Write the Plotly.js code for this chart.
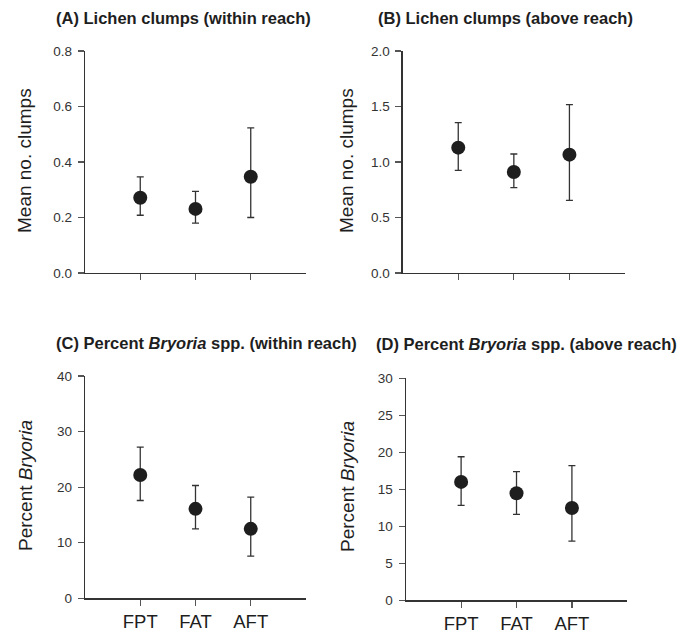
<!DOCTYPE html>
<html>
<head>
<meta charset="utf-8">
<script src="https://cdn.plot.ly/plotly-3.0.1.min.js"></script>
<style>html,body{margin:0;padding:0;background:#fff;}#chart{width:694px;height:634px;}</style>
</head>
<body>
<div id="chart"></div>
<script>
// Categories
const categories = ["FPT", "FAT", "AFT"];

// (A) Lichen clumps (within reach)
const meanA  = [0.271, 0.231, 0.347];
const upperA = [0.346, 0.294, 0.523];
const lowerA = [0.208, 0.180, 0.200];

// (B) Lichen clumps (above reach)
const meanB  = [1.129, 0.910, 1.066];
const upperB = [1.354, 1.072, 1.516];
const lowerB = [0.925, 0.769, 0.655];

// (C) Percent Bryoria spp. (within reach)
const meanC  = [22.2, 16.1, 12.5];
const upperC = [27.2, 20.3, 18.2];
const lowerC = [17.6, 12.5, 7.6];

// (D) Percent Bryoria spp. (above reach)
const meanD  = [16.0, 14.46, 12.47];
const upperD = [19.4, 17.38, 18.19];
const lowerD = [12.84, 11.62, 8.01];

const panelTitles = [
  "<b>(A) Lichen clumps (within reach)</b>",
  "<b>(B) Lichen clumps (above reach)</b>",
  "<b>(C) Percent <i>Bryoria</i> spp. (within reach)</b>",
  "<b>(D) Percent <i>Bryoria</i> spp. (above reach)</b>"
];
const yTitles = ["Mean no. clumps", "Mean no. clumps", "Percent <i>Bryoria</i>", "Percent <i>Bryoria</i>"];
const yRanges = [[0, 0.8], [0, 2.0], [0, 40], [0, 30]];
const yTicks = [[0, 0.2, 0.4, 0.6, 0.8], [0, 0.5, 1.0, 1.5, 2.0], [0, 10, 20, 30, 40], [0, 5, 10, 15, 20, 25, 30]];
const yTickText = [["0.0","0.2","0.4","0.6","0.8"], ["0.0","0.5","1.0","1.5","2.0"], ["0","10","20","30","40"], ["0","5","10","15","20","25","30"]];

const FONT = "Liberation Sans, Arial, sans-serif";
const INK = "#1e1e1e";

function mkTrace(mean, upper, lower, ax) {
  return {
    type: "scatter", mode: "markers",
    x: categories, y: mean,
    xaxis: "x" + (ax === 1 ? "" : ax), yaxis: "y" + (ax === 1 ? "" : ax),
    marker: { size: 14, color: INK },
    error_y: {
      type: "data", symmetric: false,
      array: upper.map((u, i) => u - mean[i]),
      arrayminus: lower.map((l, i) => mean[i] - l),
      color: "#333", thickness: 1.3, width: 3.5
    },
    showlegend: false, hoverinfo: "skip"
  };
}

const data = [
  mkTrace(meanA, upperA, lowerA, 1),
  mkTrace(meanB, upperB, lowerB, 2),
  mkTrace(meanC, upperC, lowerC, 3),
  mkTrace(meanD, upperD, lowerD, 4)
];

const xDomains = [[0.1225, 0.4409], [0.5802, 0.9006], [0.1225, 0.4409], [0.5846, 0.9039]];
const yDomains = [[0.5694, 0.9196], [0.5694, 0.9196], [0.0563, 0.4069], [0.0531, 0.4033]];

const layout = {
  width: 694, height: 634,
  margin: { l: 0, r: 0, t: 0, b: 0 },
  paper_bgcolor: "#fff", plot_bgcolor: "#fff",
  font: { family: FONT, color: INK },
  showlegend: false,
  annotations: []
};

for (let i = 0; i < 4; i++) {
  const s = i === 0 ? "" : String(i + 1);
  layout["xaxis" + s] = {
    domain: xDomains[i], anchor: "y" + s,
    type: "category", range: [-1, 3],
    showline: true, linecolor: "#333", linewidth: 1.2,
    ticks: "outside", ticklen: 6, tickcolor: "#555", tickwidth: 1.2,
    showgrid: false, zeroline: false,
    showticklabels: i >= 2,
    tickfont: { size: 18.5, family: FONT, color: INK },
    fixedrange: true
  };
  layout["yaxis" + s] = {
    domain: yDomains[i], anchor: "x" + s,
    range: yRanges[i],
    tickmode: "array", tickvals: yTicks[i], ticktext: yTickText[i],
    showline: true, linecolor: "#333", linewidth: 1.2,
    ticks: "outside", ticklen: 6, tickcolor: "#555", tickwidth: 1.2,
    ticklabelstandoff: 3,
    showgrid: false, zeroline: false,
    tickfont: { size: 13.5, family: FONT, color: "#333" },
    fixedrange: true
  };
}

// panel titles
const titlePos = [[183.7, 18], [505.5, 18], [206.3, 343.3], [526.5, 344]];
const yTitlePos = [[25, 161], [347, 161], [25, 486], [347, 487]];
for (let i = 0; i < 4; i++) {
  layout.annotations.push({
    text: panelTitles[i], xref: "paper", yref: "paper",
    x: titlePos[i][0] / 694, y: 1 - titlePos[i][1] / 634,
    xanchor: "center", yanchor: "middle", showarrow: false,
    font: { size: 16.5, family: FONT, color: INK }
  });
  layout.annotations.push({
    text: yTitles[i], xref: "paper", yref: "paper",
    x: yTitlePos[i][0] / 694, y: 1 - yTitlePos[i][1] / 634,
    xanchor: "center", yanchor: "middle", showarrow: false, textangle: -90,
    font: { size: 19, family: FONT, color: INK }
  });
}

Plotly.newPlot("chart", data, layout, { displayModeBar: false, staticPlot: true });
</script>
</body>
</html>
